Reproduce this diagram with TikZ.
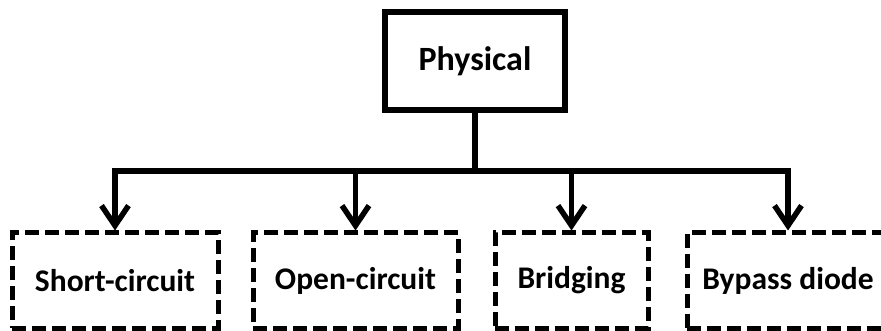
\documentclass[tikz,border=0pt]{standalone}
\usepackage{fontspec}
\setmainfont{Carlito}
\usetikzlibrary{arrows.meta}
\begin{document}
\begin{tikzpicture}[x=1pt,y=-1pt,
  topbox/.style={draw, line width=5.5pt, minimum width=180pt, minimum height=98pt, font=\fontsize{34}{40}\selectfont\bfseries},
  leafbox/.style={draw, line width=5pt, dash pattern=on 14pt off 6pt, minimum height=95pt, font=\fontsize{31.5}{36}\selectfont\bfseries},
  link/.style={line width=5.5pt},
  arr/.style={line width=5.5pt, -{Straight Barb[length=20pt,width=27pt]}}]
\useasboundingbox (0,0) rectangle (881,331);
\fill[white] (0,0) rectangle (881,331);
\node[topbox] (phys) at (475,61) {Physical};
\node[leafbox, minimum width=206pt] (sc) at (115,280.5) {Short-circuit};
\node[leafbox, minimum width=205pt] (oc) at (355.5,280.5) {Open-circuit};
\node[leafbox, minimum width=153pt] (br) at (571.5,280.5) {Bridging};
\node[leafbox, minimum width=202pt] (bd) at (788,280.5) {Bypass diode};
\coordinate (j) at (475,171);
\coordinate (l) at (115,171);
\coordinate (r) at (788,171);
\draw[link] (phys.south) -- (j);
\draw[link] ([xshift=-2.75pt]l) -- ([xshift=2.75pt]r);
\draw[arr] (l) -- (sc.north);
\draw[arr] (oc.north |- j) -- (oc.north);
\draw[arr] (br.north |- j) -- (br.north);
\draw[arr] (r) -- (bd.north);
\end{tikzpicture}
\end{document}
